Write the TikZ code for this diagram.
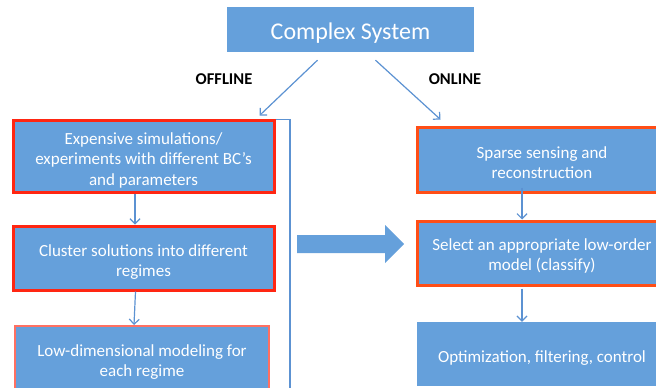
\documentclass[tikz,border=0pt]{standalone}
\usepackage{fontspec}
\setmainfont{Carlito}
\usepackage{tikz}
\usetikzlibrary{arrows.meta}
\definecolor{boxblue}{RGB}{101,160,219}
\definecolor{linkblue}{RGB}{92,146,210}
\definecolor{offred}{RGB}{255,38,18}
\definecolor{onred}{RGB}{255,78,22}
\definecolor{softred}{RGB}{255,112,98}

\begin{document}
\begin{tikzpicture}[x=1pt, y=-1pt,
    box/.style={fill=boxblue, inner sep=0pt},
    words/.style={text=white, align=center, inner sep=0pt, yshift=-4pt,
        font=\fontsize{17}{20.5}\selectfont},
    offbox/.style={box, draw=offred, line width=3pt},
    onbox/.style={box, draw=onred, line width=3pt},
    link/.style={draw=linkblue, line width=1.2pt, -{Straight Barb[length=5pt, width=10pt]}},
    tag/.style={font=\bfseries\fontsize{16.5}{19}\selectfont}]
    \useasboundingbox (0,0) rectangle (656,388);

    % Complex system on top
    \node[box, minimum width=247pt, minimum height=45pt,
        label={[words, font=\fontsize{24}{28}\selectfont]center:Complex System}] (sys) at (350.5,29.5) {};
    \node[tag] (off) at (224,79) {OFFLINE};
    \node[tag] (on) at (455,79) {ONLINE};

    % Offline branch
    \node[offbox, minimum width=261pt, minimum height=72pt,
        label={[words]center:{Expensive simulations/\\experiments with different BC’s\\and parameters}}]
        (expt) at (143.5,156) {};
    \node[offbox, minimum width=261pt, minimum height=64pt,
        label={[words]center:{Cluster solutions into different\\regimes}}]
        (clus) at (143.5,258) {};
    \node[box, draw=softred, line width=2pt, minimum width=254pt, minimum height=68pt,
        label={[words, yshift=2pt]center:{Low-dimensional modeling for\\each regime}}]
        (lowdim) at (142,360) {};

    % Online branch
    \node[onbox, minimum width=250pt, minimum height=65pt,
        label={[words, yshift=1pt]center:{Sparse sensing and\\reconstruction}}]
        (sense) at (542,159.5) {};
    \node[onbox, minimum width=250pt, minimum height=64pt,
        label={[words, yshift=1pt]center:{Select an appropriate low-order\\model (classify)}}]
        (pick) at (542,253) {};
    \node[box, minimum width=250pt, minimum height=64pt,
        label={[words]center:{Optimization, filtering, control}}]
        (ctrl) at (542,354) {};

    % Links
    \draw[link] ([shift={(-33,8)}]sys.south) -- ([shift={(-16,-3)}]expt.north east);
    \draw[link] ([shift={(25,8)}]sys.south) -- ([shift={(25,-6)}]sense.north west);
    \draw[link] ([xshift=-8.5pt]expt.south) -- ([xshift=-8.5pt]clus.north);
    \draw[link] ([xshift=-8pt]clus.south) -- ([xshift=-8pt]lowdim.north);
    \draw[link] ([shift={(-20,-6)}]sense.south) -- ([xshift=-20pt]pick.north);
    \draw[link] ([shift={(-20,2)}]pick.south) -- ([xshift=-20pt]ctrl.north);

    % Bracket round the offline steps
    \draw[linkblue, line width=1.5pt] ([yshift=-1pt]expt.north east) -| (290,400);

    % Block arrow, offline to online
    \fill[boxblue] (297,235) -- (385,235) -- (385,225) -- (404,244)
        -- (385,263) -- (385,253) -- (297,253) -- cycle;
\end{tikzpicture}
\end{document}
